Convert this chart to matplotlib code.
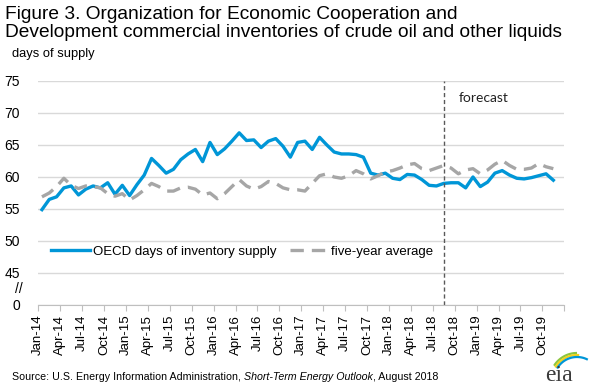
import matplotlib.pyplot as plt
import numpy as np

plt.rcParams['font.family'] = ['Liberation Sans', 'DejaVu Sans']

tick_labels = ['Jan-14', 'Apr-14', 'Jul-14', 'Oct-14', 'Jan-15', 'Apr-15', 'Jul-15', 'Oct-15',
               'Jan-16', 'Apr-16', 'Jul-16', 'Oct-16', 'Jan-17', 'Apr-17', 'Jul-17', 'Oct-17',
               'Jan-18', 'Apr-18', 'Jul-18', 'Oct-18', 'Jan-19', 'Apr-19', 'Jul-19', 'Oct-19', '']

# monthly values, Jan-14 onwards (days of supply)
oecd_days = [54.9, 56.5, 56.9, 58.3, 58.6, 57.2, 58.1, 58.6, 58.3, 59.1, 57.3, 58.7,
             57.1, 58.8, 60.3, 62.9, 61.8, 60.6, 61.2, 62.7, 63.6, 64.3, 62.4, 65.4,
             63.5, 64.4, 65.6, 66.9, 65.7, 65.8, 64.6, 65.6, 66.0, 64.8, 63.1, 65.4,
             65.6, 64.3, 66.2, 65.0, 63.9, 63.6, 63.6, 63.5, 63.1, 60.6, 60.3, 60.6,
             59.8, 59.6, 60.4, 60.3, 59.6, 58.7, 58.6, 59.0, 59.1, 59.1, 58.3, 60.0,
             58.5, 59.2, 60.6, 61.0, 60.3, 59.8, 59.7, 59.9, 60.2, 60.5, 59.5]
five_year_avg = [56.9, 57.5, 58.5, 59.8, 58.7, 58.2, 58.6, 58.5, 58.3, 57.4, 57.0, 57.4,
                 56.4, 57.1, 58.0, 59.0, 58.5, 57.8, 57.8, 58.3, 58.4, 58.1, 57.2, 57.5,
                 56.6, 57.4, 58.5, 59.6, 58.6, 58.1, 58.5, 59.3, 59.0, 58.3, 58.0, 58.0,
                 57.8, 59.0, 60.2, 60.5, 60.0, 59.8, 60.2, 61.0, 60.5, 59.7, 60.2, 60.8,
                 61.0, 61.4, 61.9, 62.1, 61.3, 61.0, 61.4, 61.8, 61.4, 60.5, 61.1, 61.3,
                 60.5, 61.1, 62.0, 62.6, 61.8, 61.2, 61.2, 61.4, 62.1, 61.6, 61.3]
forecast_start = 55.6  # months after Jan-14

x = np.arange(len(oecd_days)) + 0.5

fig = plt.figure(figsize=(5.91, 3.87), dpi=100)
ax = fig.add_axes([0.0648, 0.2119, 0.89, 0.5788])

ax.plot(x, oecd_days, color='#0096d7', lw=2.4, label='OECD days of inventory supply',
        solid_joinstyle='round')
ax.plot(x, five_year_avg, color='#a6a6a6', lw=2.4, dashes=(4, 2.4), label='five-year average')
ax.axvline(forecast_start, color='#595959', lw=1, ls=(0, (3, 2)))
ax.text(forecast_start + 1.9, 72.4, 'forecast', fontsize=10, family=['Lato', 'DejaVu Sans'],
        va='center', color='#222222')

ax.set_xlim(0, 72)
ax.set_ylim(40, 75)
ax.set_xticks(np.arange(0, 73, 3))
ax.set_xticklabels(tick_labels, rotation=90, fontsize=9.5)
ax.set_yticks(np.arange(40, 76, 5))
ax.set_yticklabels(['0', '45', '50', '55', '60', '65', '70', '75'], fontsize=10)
ax.tick_params(axis='y', length=0, pad=13)
ax.tick_params(axis='x', length=4, color='#bfbfbf', pad=3)
ax.grid(axis='y', color='#d9d9d9', lw=1)
ax.set_axisbelow(True)
for s in ['left', 'right', 'top']:
    ax.spines[s].set_visible(False)
ax.spines['bottom'].set_color('#bfbfbf')
ax.text(-0.03, 42.5, '//', transform=ax.get_yaxis_transform(), ha='right', va='center',
        fontsize=10)

ax.legend(loc='center left', bbox_to_anchor=(0.025, 0.237), ncol=2, frameon=False,
          fontsize=9.5, handlelength=2.9, handletextpad=0.25, columnspacing=1.0,
          borderpad=0, borderaxespad=0)

fig.text(0.008, 0.985, 'Figure 3. Organization for Economic Cooperation and\n'
         'Development commercial inventories of crude oil and other liquids',
         fontsize=13.8, va='top', linespacing=1.1)
fig.text(0.02, 0.86, 'days of supply', fontsize=9.3, va='center')

src = fig.text(0.02, 0.018, 'Source: U.S. Energy Information Administration, ', fontsize=7.7)
src2 = ax.annotate('Short-Term Energy Outlook', xy=(1, 0), xycoords=src, fontsize=7.7,
                   style='italic', va='bottom')
ax.annotate(', August 2018', xy=(1, 0), xycoords=src2, fontsize=7.7, va='bottom')

# eia logo, drawn in pixel coordinates of the lower right corner
lg = fig.add_axes([540 / 591, 0, 51 / 591, 47 / 387])
lg.set_xlim(540, 591)
lg.set_ylim(387, 340)
lg.axis('off')
lg.text(559, 381, 'eia', family='Liberation Serif', fontsize=17, ha='center', va='baseline',
        color='#3a3a3a')
for r, c, a0, a1 in [(27, '#8dc63f', 90, 148), (25, '#f5d21c', 85, 150), (23, '#0096d7', 62, 150)]:
    th = np.radians(np.linspace(a0, a1, 40))
    lg.plot(577 + r * np.cos(th), 380 - r * np.sin(th), color=c, lw=1.6,
            solid_capstyle='butt')

fig.savefig('out.png', dpi=100)
